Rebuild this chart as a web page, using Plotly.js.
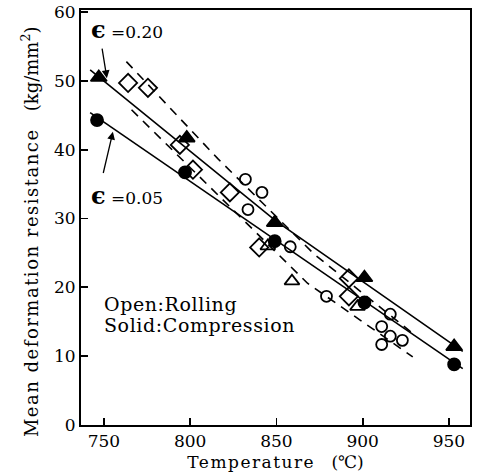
<!DOCTYPE html>
<html>
<head>
<meta charset="utf-8">
<script src="https://cdn.plot.ly/plotly-3.0.1.min.js"></script>
<style>html,body{margin:0;padding:0;background:#fff;}#chart{width:480px;height:474px;}</style>
</head>
<body>
<div id="chart"></div>
<script>
// Compression (solid symbols)
const compHighTx = [747, 798, 849, 901, 953];        // solid triangles, eps=0.20
const compHighTy = [50.5, 41.7, 29.4, 21.4, 11.4];
const compLowCx = [746, 797, 849, 901, 953];         // solid circles, eps=0.05
const compLowCy = [44.3, 36.7, 26.7, 17.8, 8.8];
// Rolling (open symbols)
const openDiaX = [764, 775.5, 794, 801.6, 823, 840, 892, 892];
const openDiaY = [49.7, 49.0, 40.7, 37.1, 33.8, 25.8, 21.3, 18.7];
const openTriX = [845, 859, 897];
const openTriY = [26.0, 20.9, 17.2];
const openCircX = [832, 841.6, 833.5, 858, 879, 916, 911, 916, 923, 911];
const openCircY = [35.7, 33.8, 31.3, 25.9, 18.7, 16.1, 14.3, 12.9, 12.3, 11.7];
// Fit lines
const compHighLineX = [742, 850, 958];
const compHighLineY = [51.6, 29.6, 10.7];
const compLowLineX = [742, 958];
const compLowLineY = [45.4, 8.2];
const rollHighLineX = [763, 816, 872, 931];
const rollHighLineY = [52.8, 38.7, 24.8, 12.9];
const rollLowLineX = [766, 820, 868, 929];
const rollLowLineY = [45.8, 32.4, 20.6, 9.9];
// Label pointer arrows (tail, head)
const arrowHighX = [748.8, 751.7];
const arrowHighY = [54.9, 50.4];
const arrowLowX = [749.4, 755.2];
const arrowLowY = [36.4, 42.6];
// Ticks
const xTicks = [750, 800, 850, 900, 950];
const yTicks = [0, 10, 20, 30, 40, 50, 60];

const FONT = 'DejaVu Serif, Liberation Serif, serif';
const line = (x, y, dash) => ({x, y, type: 'scatter', mode: 'lines', line: {color: '#000', width: 1.6, dash: dash}, hoverinfo: 'skip'});
const pts = (x, y, symbol, size) => ({x, y, type: 'scatter', mode: 'markers',
  marker: {symbol, size, color: '#000', line: {color: '#000', width: 1.8}}});

const data = [
  line(compHighLineX, compHighLineY, 'solid'),
  line(compLowLineX, compLowLineY, 'solid'),
  line(rollHighLineX, rollHighLineY, '9px,7px'),
  line(rollLowLineX, rollLowLineY, '9px,7px'),
  pts(openDiaX, openDiaY, 'diamond-open', 14),
  pts(openTriX, openTriY, 'triangle-up-open', 13),
  pts(openCircX, openCircY, 'circle-open', 11),
  pts(compHighTx, compHighTy, 'triangle-up', 14),
  pts(compLowCx, compLowCy, 'circle', 12)
];

const arrowAnn = (xs, ys) => ({x: xs[1], y: ys[1], ax: xs[0], ay: ys[0], xref: 'x', yref: 'y', axref: 'x', ayref: 'y',
  showarrow: true, arrowhead: 2, arrowsize: 1.2, arrowwidth: 1.3, arrowcolor: '#000', text: ''});

const layout = {
  width: 480, height: 474,
  margin: {l: 81, r: 10, t: 10, b: 49},
  paper_bgcolor: '#fff', plot_bgcolor: '#fff',
  showlegend: false,
  font: {family: FONT, color: '#000', size: 17},
  xaxis: {
    range: [736.7, 962.2], tickvals: xTicks, ticktext: xTicks.map(String),
    ticks: 'inside', ticklen: 7, tickwidth: 1.8, tickcolor: '#000',
    showline: true, linecolor: '#000', linewidth: 2, mirror: true,
    showgrid: false, zeroline: false,
    tickfont: {family: FONT, size: 17},
    title: {text: '<span style="letter-spacing:1.5px">Temperature</span>   (℃)', font: {family: FONT, size: 17}, standoff: 6}
  },
  yaxis: {
    range: [0, 60.3], tickvals: yTicks, ticktext: yTicks.map(String),
    ticks: 'inside', ticklen: 7, tickwidth: 1.8, tickcolor: '#000',
    showline: true, linecolor: '#000', linewidth: 2, mirror: true,
    showgrid: false, zeroline: false,
    tickfont: {family: FONT, size: 17}
  },
  annotations: [
    {x: -0.131, y: 0.465, xref: 'paper', yref: 'paper', xanchor: 'center', yanchor: 'middle', textangle: -90, showarrow: false,
     text: '<span style="letter-spacing:1.5px">Mean deformation resistance</span>   (kg/mm<sup>2</sup>)', font: {family: FONT, size: 18}},
    {x: 741.5, y: 57.4, xref: 'x', yref: 'y', xanchor: 'left', yanchor: 'middle', showarrow: false,
     text: '<b><span style="font-size:24px">ϵ</span></b> =0.20', font: {family: FONT, size: 17}},
    {x: 741.5, y: 33.4, xref: 'x', yref: 'y', xanchor: 'left', yanchor: 'middle', showarrow: false,
     text: '<b><span style="font-size:24px">ϵ</span></b> =0.05', font: {family: FONT, size: 17}},
    arrowAnn(arrowHighX, arrowHighY),
    arrowAnn(arrowLowX, arrowLowY),
    {x: 749.0, y: 17.6, xref: 'x', yref: 'y', xanchor: 'left', yanchor: 'middle', showarrow: false,
     text: '<span style="letter-spacing:0.6px">Open:Rolling</span>', font: {family: FONT, size: 19}},
    {x: 749.0, y: 14.5, xref: 'x', yref: 'y', xanchor: 'left', yanchor: 'middle', showarrow: false,
     text: '<span style="letter-spacing:0.6px">Solid:Compression</span>', font: {family: FONT, size: 19}}
  ]
};

Plotly.newPlot('chart', data, layout, {displayModeBar: false, staticPlot: true});
</script>
</body>
</html>
